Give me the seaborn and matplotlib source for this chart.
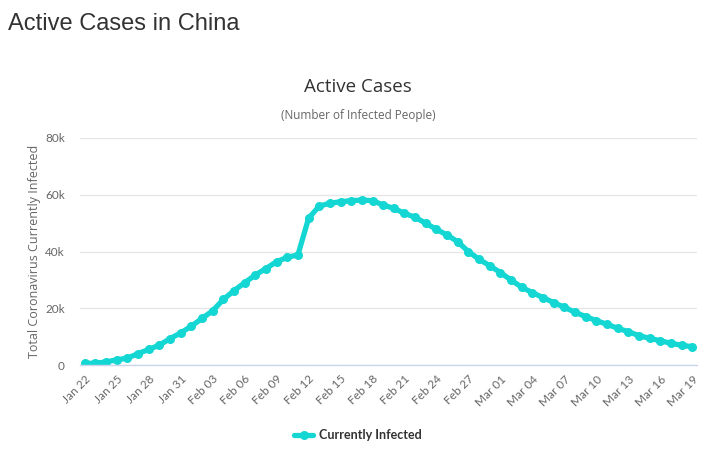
import matplotlib
matplotlib.use("Agg")
import matplotlib.pyplot as plt
import seaborn as sns
import pandas as pd
import numpy as np
from matplotlib.lines import Line2D

dates = pd.date_range("2020-01-22", "2020-03-19", freq="D")
active = [
    580, 620, 1100, 1800, 2450, 4000, 5500, 7000, 9300, 11300,
    13700, 16400, 19100, 23100, 26200, 29000, 31700, 34000, 36400, 37950,
    38800, 51700, 56000, 57000, 57550, 57900, 58150, 57900, 56400, 55200,
    53450, 52050, 49950, 47800, 45800, 43450, 39950, 37250, 35000, 32550,
    29950, 27400, 25500, 23750, 22000, 20350, 18600, 17050, 15650, 14350,
    12950, 11750, 10350, 9400, 8550, 7650, 6950, 6450,
]
tick_labels = [d.strftime("%b %d") for d in dates]
series_name = "Currently Infected"

df = pd.DataFrame({"idx": np.arange(len(dates)), "value": active, "series": series_name})

sns.set_theme(style="white")
plt.rcParams["font.family"] = ["Open Sans", "DejaVu Sans"]

COLOR = "#14d6d2"
fig = plt.figure(figsize=(7.2, 4.54), dpi=100)
ax = fig.add_axes([80 / 720, 1 - 365 / 454, 617 / 720, 227 / 454])

sns.lineplot(data=df, x="idx", y="value", ax=ax, color=COLOR, linewidth=3.8,
             marker="o", markersize=6.5, markeredgewidth=0, legend=False)

ax.set_xlim(-0.45, len(dates) - 1 + 0.45)
ax.set_ylim(0, 80000)
ax.set_yticks([0, 20000, 40000, 60000, 80000])
ax.set_yticklabels(["0", "20k", "40k", "60k", "80k"], fontsize=8.5, color="#666666",
                   family=["Lato", "DejaVu Sans"])
ticks = list(range(0, len(dates), 3))
ax.set_xticks(ticks)
ax.set_xticklabels([tick_labels[i] for i in ticks], rotation=45, ha="right",
                   rotation_mode="anchor", fontsize=8.5, color="#666666",
                   family=["Lato", "DejaVu Sans"])
ax.tick_params(axis="x", length=0, pad=6)
ax.tick_params(axis="y", length=0, pad=11)
ax.grid(axis="y", color="#e6e6e6", linewidth=1)
ax.set_axisbelow(True)
for s in ["top", "right", "left"]:
    ax.spines[s].set_visible(False)
ax.spines["bottom"].set_color("#ccd6eb")
ax.spines["bottom"].set_linewidth(1)
ax.set_xlabel("")
ax.set_ylabel("Total Coronavirus Currently Infected", fontsize=9, color="#666666",
              labelpad=3)

fig.text(8 / 720, 1 - 24 / 454, "Active Cases in China", fontsize=17, color="#333333",
         va="center", ha="left", family=["Liberation Sans", "DejaVu Sans"])
fig.text(358 / 720, 1 - 87 / 454, "Active Cases", fontsize=13.5, color="#333333",
         va="center", ha="center")
fig.text(358 / 720, 1 - 115 / 454, "(Number of Infected People)", fontsize=8.5, color="#666666",
         va="center", ha="center")

handle = Line2D([0], [0], color=COLOR, linewidth=3.8, marker="o", markersize=6.5,
                markeredgewidth=0)
leg = fig.legend([handle], [series_name], loc="center", bbox_to_anchor=(358 / 720, 1 - 435 / 454),
                 frameon=False, handlelength=1.5, handletextpad=0.5,
                 prop={"family": ["Lato", "DejaVu Sans"], "weight": "bold", "size": 9})
for t in leg.get_texts():
    t.set_color("#333333")

fig.savefig("out.png", dpi=100, facecolor="white")
